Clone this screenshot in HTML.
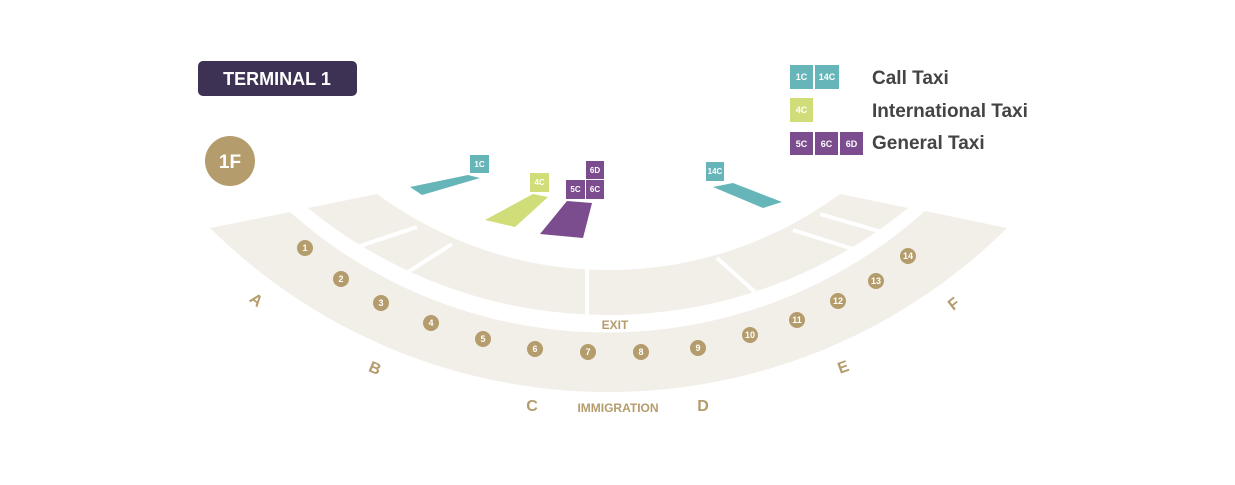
<!DOCTYPE html>
<html><head><meta charset="utf-8"><style>
html,body{margin:0;padding:0;background:#fff;}
svg{display:block;}
text{font-family:"Liberation Sans",sans-serif;font-weight:bold;}
</style></head><body>
<svg width="1235" height="485" viewBox="0 0 1235 485" xmlns="http://www.w3.org/2000/svg">
<rect width="1235" height="485" fill="#fff"/>
<rect x="198" y="61" width="159" height="35" rx="5" fill="#3d3154"/>
<text x="277" y="85" font-size="18" fill="#fff" text-anchor="middle">TERMINAL 1</text>
<circle cx="230" cy="161" r="25" fill="#b49c6c"/>
<text x="230" y="168" font-size="19" fill="#fff" text-anchor="middle">1F</text>

<path d="M210,228 A566,566 0 0 0 1007,228 L925,211 A477,477 0 0 1 290,212 Z" fill="#f2efe9"/>
<path d="M308,208 A474,474 0 0 0 908,208 L840,194 A390,390 0 0 1 377,194 Z" fill="#f2efe9"/>
<g stroke="#fff" stroke-width="4">
<line x1="357" y1="247" x2="417" y2="227"/>
<line x1="408" y1="272" x2="452" y2="244"/>
<line x1="587" y1="266" x2="587" y2="318"/>
<line x1="717" y1="258" x2="755" y2="292"/>
<line x1="793" y1="230" x2="853" y2="249"/>
<line x1="820" y1="214" x2="882" y2="232"/>
</g>

<polygon points="410,187 468,175 480,178 422,195" fill="#66b5b9"/>
<polygon points="485,220 533,194 548,197 515,227" fill="#d0dd78"/>
<polygon points="567,201 592,203 583,238 540,234" fill="#7b4c8e"/>
<polygon points="713,187 733,183 782,202 763,208" fill="#66b5b9"/>
<g font-size="8" fill="#fff" text-anchor="middle">
<rect x="470" y="155" width="19" height="18" fill="#66b5b9"/><text x="479.5" y="167">1C</text>
<rect x="530" y="173" width="19" height="19" fill="#d0dd78"/><text x="539.5" y="185">4C</text>
<rect x="586" y="161" width="18" height="18" fill="#7b4c8e"/><text x="595" y="173">6D</text>
<rect x="566" y="180" width="19" height="19" fill="#7b4c8e"/><text x="575.5" y="192">5C</text>
<rect x="586" y="180" width="18" height="19" fill="#7b4c8e"/><text x="595" y="192">6C</text>
<rect x="706" y="162" width="18" height="19" fill="#66b5b9"/><text x="715" y="174">14C</text>
</g>

<g fill="#b49c6c">
<circle cx="305" cy="248" r="8"/><circle cx="341" cy="279" r="8"/><circle cx="381" cy="303" r="8"/>
<circle cx="431" cy="323" r="8"/><circle cx="483" cy="339" r="8"/><circle cx="535" cy="349" r="8"/>
<circle cx="588" cy="352" r="8"/><circle cx="641" cy="352" r="8"/><circle cx="698" cy="348" r="8"/>
<circle cx="750" cy="335" r="8"/><circle cx="797" cy="320" r="8"/><circle cx="838" cy="301" r="8"/>
<circle cx="876" cy="281" r="8"/><circle cx="908" cy="256" r="8"/>
</g>
<g font-size="9" fill="#fff" text-anchor="middle">
<text x="305" y="251">1</text><text x="341" y="282">2</text><text x="381" y="306">3</text>
<text x="431" y="326">4</text><text x="483" y="342">5</text><text x="535" y="352">6</text>
<text x="588" y="355">7</text><text x="641" y="355">8</text><text x="698" y="351">9</text>
<text x="750" y="338">10</text><text x="797" y="323">11</text><text x="838" y="304">12</text>
<text x="876" y="284">13</text><text x="908" y="259">14</text>
</g>
<g font-size="16" fill="#b49c6c" text-anchor="middle">
<text transform="translate(253,304) rotate(38)">A</text>
<text transform="translate(373,373) rotate(22)">B</text>
<text x="532" y="411">C</text>
<text x="703" y="411">D</text>
<text transform="translate(845,372) rotate(-20)">E</text>
<text transform="translate(957,308) rotate(-38)">F</text>
</g>
<text x="615" y="329" font-size="12" fill="#b49c6c" text-anchor="middle">EXIT</text>
<text x="618" y="412" font-size="12" fill="#b49c6c" text-anchor="middle">IMMIGRATION</text>

<g font-size="9" fill="#fff" text-anchor="middle">
<rect x="790" y="65" width="23" height="24" fill="#66b5b9"/><text x="801.5" y="80">1C</text>
<rect x="815" y="65" width="24" height="24" fill="#66b5b9"/><text x="827" y="80">14C</text>
<rect x="790" y="98" width="23" height="24" fill="#d0dd78"/><text x="801.5" y="113">4C</text>
<rect x="790" y="132" width="23" height="23" fill="#7b4c8e"/><text x="801.5" y="147">5C</text>
<rect x="815" y="132" width="23" height="23" fill="#7b4c8e"/><text x="826.5" y="147">6C</text>
<rect x="840" y="132" width="23" height="23" fill="#7b4c8e"/><text x="851.5" y="147">6D</text>
</g>
<g font-size="19" fill="#444">
<text x="872" y="84">Call Taxi</text>
<text x="872" y="117">International Taxi</text>
<text x="872" y="149">General Taxi</text>
</g>
</svg>
</body></html>
